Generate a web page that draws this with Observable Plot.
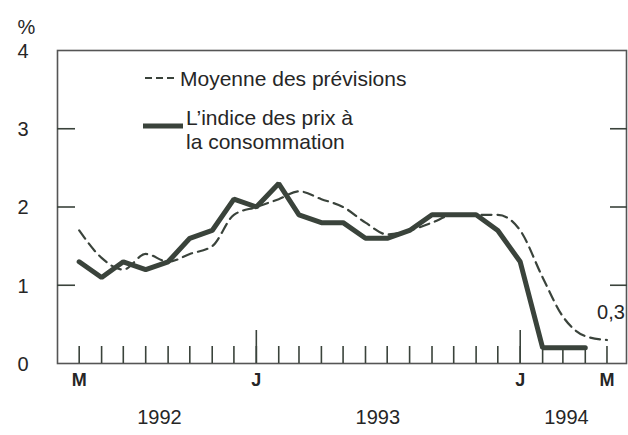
<!DOCTYPE html>
<html><head><meta charset="utf-8">
<script src="https://cdn.jsdelivr.net/npm/d3@7"></script>
<script src="https://cdn.jsdelivr.net/npm/@observablehq/plot@0.6"></script>
<style>
html,body{margin:0;padding:0;background:#fff;}
#wrap{position:relative;width:628px;height:435px;font-family:"Liberation Sans",Arial,Helvetica,sans-serif;}
#legend{position:absolute;left:0;top:0;pointer-events:none;}
</style></head><body><div id="wrap"></div>
<script>
// Months (first of month), May 1992 .. May 1994
const months = ["1992-05","1992-06","1992-07","1992-08","1992-09","1992-10","1992-11","1992-12",
  "1993-01","1993-02","1993-03","1993-04","1993-05","1993-06","1993-07","1993-08","1993-09","1993-10","1993-11","1993-12",
  "1994-01","1994-02","1994-03","1994-04","1994-05"];
// Consumer price index (solid), May 1992 .. Apr 1994
const cpi = [1.3,1.1,1.3,1.2,1.3,1.6,1.7,2.1,2.0,2.3,1.9,1.8,1.8,1.6,1.6,1.7,1.9,1.9,1.9,1.7,1.3,0.2,0.2,0.2];
// Average of forecasts (dashed), May 1992 .. May 1994
const forecast = [1.7,1.35,1.2,1.4,1.3,1.4,1.5,1.9,2.0,2.1,2.2,2.1,2.0,1.8,1.65,1.7,1.8,1.9,1.9,1.9,1.7,1.1,0.6,0.35,0.3];
const yTicks = [0,1,2,3,4];
const yInnerTicks = [1,2,3];
const yearStarts = ["1993-01","1994-01"];
const monthLabelDates = ["1992-05","1993-01","1994-01","1994-05"];
const monthLabelText = ["M","J","J","M"];
const yearLabelText = ["1992","1993","1994"];
const yearLabelDates = ["1992-08-20","1993-06-18","1994-03-06"];
const legendText = ["Moyenne des prévisions","L\u2019indice des prix à","la consommation"];

const parse = s => new Date(s.length === 7 ? s + "-01T00:00:00Z" : s + "T00:00:00Z");
const cpiData = cpi.map((v,i) => ({date: parse(months[i]), v}));
const fcData = forecast.map((v,i) => ({date: parse(months[i]), v}));
const monthDates = months.map(parse);
const yearDates = yearStarts.map(parse);
const ink = "#3a433b";
const txt = "#262626";
const font = "'Liberation Sans', Arial, Helvetica, sans-serif";

const chart = Plot.plot({
  width: 628, height: 435,
  marginTop: 50, marginBottom: 72, marginLeft: 57, marginRight: 2,
  x: {type: "utc", domain: [parse("1992-04-01"), parse("1994-05-28")], label: null},
  y: {domain: [0, 4], label: null},
  style: {fontFamily: font, fontSize: "20px", color: txt, background: "white", overflow: "visible"},
  marks: [
    Plot.frame({stroke: "#555", strokeWidth: 1.6}),
    Plot.axisX({ticks: monthDates, tickSize: -17, tickFormat: () => "", stroke: ink, strokeWidth: 1.6, label: null}),
    Plot.axisX({ticks: yearDates, tickSize: -33, tickFormat: () => "", stroke: ink, strokeWidth: 1.6, label: null}),
    Plot.axisY({ticks: yInnerTicks, anchor: "left", tickSize: -18, tickFormat: () => "", stroke: ink, strokeWidth: 1.6, label: null}),
    Plot.axisY({ticks: yInnerTicks, anchor: "right", tickSize: -17, tickFormat: () => "", stroke: ink, strokeWidth: 1.6, label: null}),
    Plot.text(yTicks, {y: d => d, text: d => String(d), frameAnchor: "left", dx: -40, dy: 1, fontSize: 20, fill: txt}),
    Plot.text(["%"], {frameAnchor: "top-left", dx: -40, dy: -31, fontSize: 20, fill: txt}),
    Plot.text(monthLabelDates, {x: d => parse(d), text: (d, i) => monthLabelText[i], frameAnchor: "bottom", dy: 22, fontSize: 18, fontWeight: "bold", fill: txt}),
    Plot.text(yearLabelDates, {x: d => parse(d), text: (d, i) => yearLabelText[i], frameAnchor: "bottom", dy: 60, fontSize: 20, fill: txt}),
    Plot.line(fcData, {x: "date", y: "v", stroke: ink, strokeWidth: 2.2, strokeDasharray: "10,6", curve: "monotone-x"}),
    Plot.line(cpiData, {x: "date", y: "v", stroke: ink, strokeWidth: 5, strokeLinejoin: "miter", curve: "linear"}),
    Plot.text(fcData.slice(-1), {x: "date", y: "v", text: d => String(d.v).replace(".", ","), dx: 4, dy: -27, fontSize: 20, fill: txt})
  ]
});
const wrap = document.getElementById("wrap");
wrap.appendChild(chart);

// Legend overlay
const ns = "http://www.w3.org/2000/svg";
const lg = document.createElementNS(ns, "svg");
lg.setAttribute("id", "legend");
lg.setAttribute("width", 628); lg.setAttribute("height", 435);
lg.innerHTML = `
  <line x1="145" x2="176" y1="78" y2="78" stroke="${ink}" stroke-width="2.2" stroke-dasharray="7,4"/>
  <text x="180" y="85.5" font-family="${font}" font-size="21" fill="${txt}">${legendText[0]}</text>
  <line x1="143" x2="183" y1="126" y2="126" stroke="${ink}" stroke-width="5"/>
  <text x="186" y="124.5" font-family="${font}" font-size="21" fill="${txt}">${legendText[1]}</text>
  <text x="186" y="149" font-family="${font}" font-size="21" fill="${txt}">${legendText[2]}</text>`;
wrap.appendChild(lg);
</script></body></html>
